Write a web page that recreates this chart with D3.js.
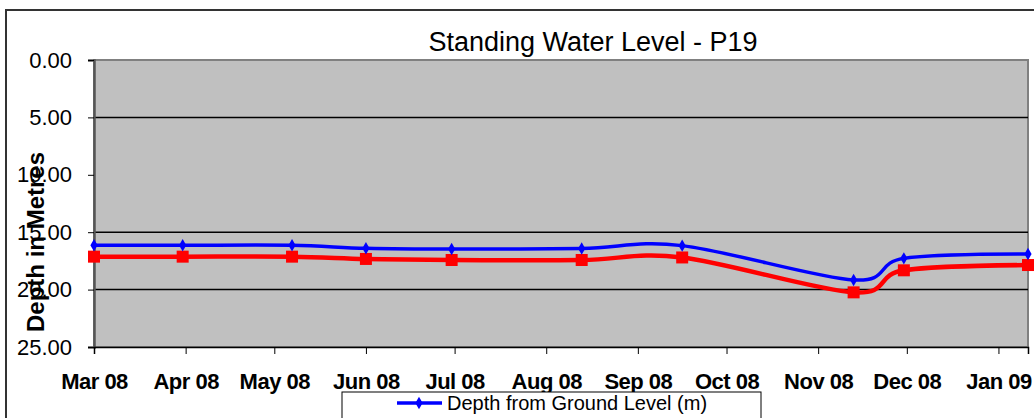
<!DOCTYPE html>
<html>
<head>
<meta charset="utf-8">
<script src="https://cdn.jsdelivr.net/npm/d3@7"></script>
<style>
body { margin: 0; background: #fff; }
svg { display: block; font-family: Arial, "Liberation Sans", sans-serif; }
</style>
</head>
<body>
<script>
// readings (date, depth in metres)
var readDates   = ['2008-03-01', '2008-03-31', '2008-05-07', '2008-06-01', '2008-06-30',
                   '2008-08-13', '2008-09-16', '2008-11-13', '2008-11-30', '2009-01-11'];
var groundDepth = [16.14, 16.14, 16.14, 16.40, 16.47, 16.42, 16.17, 19.16, 17.28, 16.90];
var casingDepth = [17.13, 17.13, 17.13, 17.33, 17.42, 17.42, 17.20, 20.24, 18.32, 17.86];

var monthTicks  = ['2008-03-01', '2008-04-01', '2008-05-01', '2008-06-01', '2008-07-01', '2008-08-01',
                   '2008-09-01', '2008-10-01', '2008-11-01', '2008-12-01', '2009-01-01'];
var monthLabels = ['Mar 08', 'Apr 08', 'May 08', 'Jun 08', 'Jul 08', 'Aug 08',
                   'Sep 08', 'Oct 08', 'Nov 08', 'Dec 08', 'Jan 09'];
var yTicks = [0, 5, 10, 15, 20, 25];
var gridValues = [5, 15, 20];

var width = 1034;
var height = 418;
var plot = {left: 94, top: 60, right: 1028, bottom: 347};

var parse = d3.timeParse('%Y-%m-%d');

var xScale = d3.scaleTime()
	.domain([parse('2008-03-01'), parse('2009-01-11')])
	.range([plot.left, plot.right]);

var yScale = d3.scaleLinear()
	.domain([0, 25])
	.range([plot.top, plot.bottom]);

var svg = d3.select('body').append('svg')
	.attr('width', width)
	.attr('height', height);

// chart border
svg.append('rect')
	.attr('x', 6).attr('y', 10)
	.attr('width', 1060).attr('height', 440)
	.attr('fill', '#fff')
	.attr('stroke', '#333')
	.attr('stroke-width', 2);

// plot area
svg.append('rect')
	.attr('x', plot.left).attr('y', plot.top)
	.attr('width', plot.right - plot.left)
	.attr('height', plot.bottom - plot.top)
	.attr('fill', '#c0c0c0')
	.attr('stroke', '#808080')
	.attr('stroke-width', 2);

svg.selectAll('.grid')
	.data(gridValues)
	.enter().append('line')
		.attr('x1', plot.left).attr('x2', plot.right)
		.attr('y1', function(d) { return yScale(d); })
		.attr('y2', function(d) { return yScale(d); })
		.attr('stroke', '#000')
		.attr('stroke-width', 1.5);

// y axis
var yAxis = svg.append('g')
	.attr('transform', 'translate(' + plot.left + ',0)')
	.call(d3.axisLeft(yScale)
		.tickValues(yTicks)
		.tickFormat(d3.format('.2f'))
		.tickSize(6)
		.tickPadding(16));
yAxis.select('.domain').attr('stroke', '#555').attr('stroke-width', 2.5);
yAxis.selectAll('.tick line').attr('stroke', '#000');
yAxis.selectAll('text')
	.attr('font-size', 22)
	.attr('font-family', 'Arial, "Liberation Sans", sans-serif')
	.attr('fill', '#000');

// x axis
var xAxis = svg.append('g')
	.attr('transform', 'translate(0,' + plot.bottom + ')')
	.call(d3.axisBottom(xScale)
		.tickValues(monthTicks.map(parse))
		.tickFormat(function(d, i) { return monthLabels[i]; })
		.tickSize(7)
		.tickPadding(19));
xAxis.select('.domain').attr('stroke', '#000').attr('stroke-width', 1.5);
xAxis.selectAll('.tick line').attr('stroke', '#000');
xAxis.selectAll('text')
	.attr('font-size', 22)
	.attr('font-weight', 'bold')
	.attr('letter-spacing', -0.5)
	.attr('font-family', 'Arial, "Liberation Sans", sans-serif')
	.attr('fill', '#000');

// title
svg.append('text')
	.attr('x', 593).attr('y', 51)
	.attr('text-anchor', 'middle')
	.attr('font-size', 27)
	.text('Standing Water Level - P19');

svg.append('text')
	.attr('transform', 'translate(44,242) rotate(-90)')
	.attr('text-anchor', 'middle')
	.attr('font-size', 24)
	.attr('font-weight', 'bold')
	.text('Depth in Metres');

// lines
var line = d3.line()
	.x(function(d) { return xScale(d.date); })
	.y(function(d) { return yScale(d.depth); })
	.curve(d3.curveCatmullRom.alpha(0));

var redData = readDates.map(function(d, i) { return {date: parse(d), depth: casingDepth[i]}; });
var blueData = readDates.map(function(d, i) { return {date: parse(d), depth: groundDepth[i]}; });

svg.append('path')
	.datum(redData)
	.attr('d', line)
	.attr('fill', 'none')
	.attr('stroke', '#ff0000')
	.attr('stroke-width', 4.5);

svg.selectAll('.sq')
	.data(redData)
	.enter().append('path')
		.attr('d', d3.symbol().type(d3.symbolSquare).size(144))
		.attr('transform', function(d) { return 'translate(' + xScale(d.date) + ',' + yScale(d.depth) + ')'; })
		.attr('fill', '#ff0000');

svg.append('path')
	.datum(blueData)
	.attr('d', line)
	.attr('fill', 'none')
	.attr('stroke', '#0000ff')
	.attr('stroke-width', 3.5);

svg.selectAll('.dm')
	.data(blueData)
	.enter().append('path')
		.attr('d', d3.symbol().type(d3.symbolDiamond).size(45))
		.attr('transform', function(d) { return 'translate(' + xScale(d.date) + ',' + yScale(d.depth) + ')'; })
		.attr('fill', '#0000ff');

// legend (only first entry fits in the window)
var legend = svg.append('g');
legend.append('rect')
	.attr('x', 342).attr('y', 392)
	.attr('width', 419).attr('height', 60)
	.attr('fill', '#fff')
	.attr('stroke', '#000')
	.attr('stroke-width', 1);
legend.append('line')
	.attr('x1', 397).attr('x2', 442)
	.attr('y1', 403).attr('y2', 403)
	.attr('stroke', '#0000ff')
	.attr('stroke-width', 3.5);
legend.append('path')
	.attr('d', d3.symbol().type(d3.symbolDiamond).size(45))
	.attr('transform', 'translate(419,403)')
	.attr('fill', '#0000ff');
legend.append('text')
	.attr('x', 447).attr('y', 410)
	.attr('font-size', 20)
	.text('Depth from Ground Level (m)');
</script>
</body>
</html>
